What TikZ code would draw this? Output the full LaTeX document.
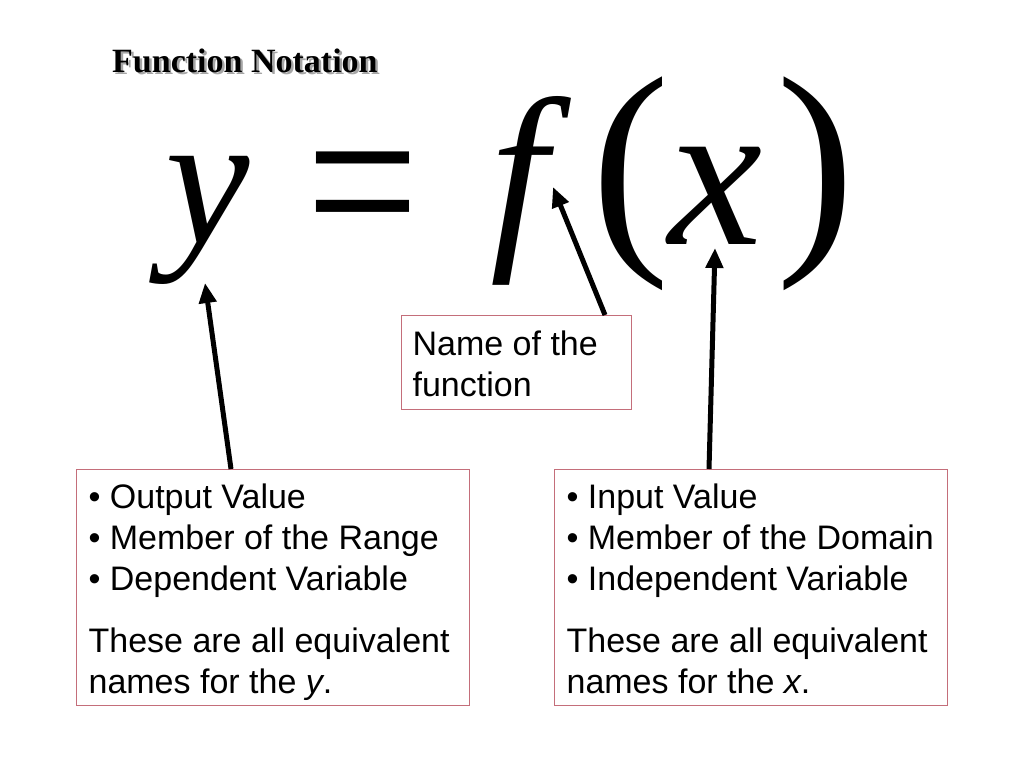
\documentclass[tikz,border=0pt]{standalone}
\usepackage{graphicx}
\usepackage{fontspec}
\setmainfont{Liberation Sans}
\newfontfamily\tnr{Liberation Serif}
\usetikzlibrary{arrows.meta,calc}
\definecolor{boxred}{RGB}{196,110,122}
\begin{document}
\begin{tikzpicture}[x=1pt,y=-1pt,
  glyph/.style={inner sep=0pt, outer sep=0pt, anchor=center},
  infobox/.style={draw=boxred, line width=1.2pt, anchor=north west, inner ysep=0pt, inner xsep=12pt, align=flush left, font=\fontsize{34}{41}\selectfont},
  ptr/.style={line width=5pt, -{Triangle[length=20pt,width=17pt]}},
  titlefont/.style={anchor=base west, inner sep=0pt, font=\tnr\bfseries\fontsize{34}{40}\selectfont}]
\useasboundingbox[fill=white] (0,0) rectangle (1024,768);
% title with shadow
\node[titlefont, text=black!35] (titleshadow) at (114.5,74.5) {Function Notation};
\node[titlefont] (title) at (112,72) {Function Notation};
% equation
\node[glyph, font=\tnr\itshape\fontsize{190}{190}\selectfont] (Y) at (208,220) {y};
\node[glyph, font=\tnr\fontsize{200}{200}\selectfont] (EQ) at (362.5,207) {\scalebox{1.0}[1.21]{=}};
\node[glyph, font=\tnr\itshape\fontsize{206}{206}\selectfont] (F) at (519.5,190.5) {f};
\node[glyph, font=\tnr\fontsize{236}{236}\selectfont] (LP) at (631,184) {(};
\node[glyph, font=\tnr\itshape\fontsize{212}{212}\selectfont] (X) at (716,196) {x};
\node[glyph, font=\tnr\fontsize{236}{236}\selectfont] (RP) at (816,184) {)};
% boxes
\node[infobox, inner xsep=11pt, text width=208pt] (NB) at (401,315)
  {\rule{0pt}{40pt}Name of the\\function\rule[-13pt]{0pt}{13pt}};
\node[infobox, text width=369pt] (LB) at (76,469)
  {\rule{0pt}{39pt}• Output Value\\• Member of the Range\\• Dependent Variable\\[21pt]These are all equivalent\\names for the \textit{y}.\rule[-12pt]{0pt}{12pt}};
\node[infobox, text width=369pt] (RB) at (554,469)
  {\rule{0pt}{39pt}• Input Value\\\mbox{• Member of the Domain}\\• Independent Variable\\[21pt]These are all equivalent\\names for the \textit{x}.\rule[-12pt]{0pt}{12pt}};
% arrows
\coordinate (ytip) at (205,283);
\coordinate (ftip) at (553,187);
\coordinate (xtip) at (715,248);
\draw[ptr] ([xshift=155pt]LB.north west) -- (ytip);
\draw[ptr] ([xshift=204pt]NB.north west) -- (ftip);
\draw[ptr] ([xshift=155pt]RB.north west) -- (xtip);
\end{tikzpicture}
\end{document}
